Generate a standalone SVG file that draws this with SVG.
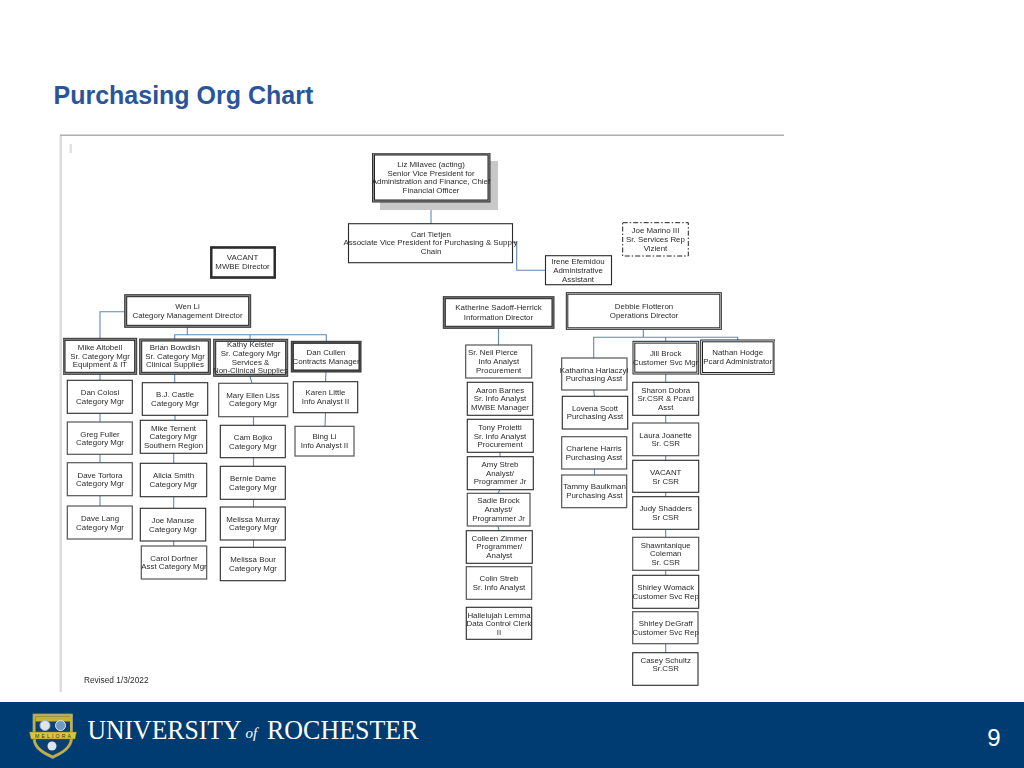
<svg xmlns="http://www.w3.org/2000/svg" width="1024" height="768" viewBox="0 0 1024 768">
<style>
.b{fill:#fff;stroke:#2a2a2a;stroke-width:1.1}
.g{fill:#fff;stroke:#555;stroke-width:1.2}
.o{fill:#8c8c8c;stroke:#333;stroke-width:1}
.w{fill:#fff;stroke:#222;stroke-width:1}
.i{fill:#fff;stroke:#222;stroke-width:1}
.d{fill:#fff;stroke:#222;stroke-width:1;stroke-dasharray:5 2 1.5 2}
text.t{font-family:"Liberation Sans",Arial,sans-serif;font-size:7.9px;fill:#2b2b2b;text-anchor:middle}
#connectors path{fill:none;stroke:#5f88b8;stroke-width:1.1}
</style>
<defs><filter id="soft" x="0" y="0" width="100%" height="100%"><feGaussianBlur stdDeviation="0.22"/></filter></defs>
<rect width="1024" height="768" fill="#fff"/>
<text x="53.500" y="103.500" style="font-family:'Liberation Sans',Arial,sans-serif;font-size:25px;font-weight:bold;fill:#2a5599">Purchasing Org Chart</text>
<g id="frame">
<rect x="59.500" y="135" width="2.500" height="557" fill="#dcdcdc"/>
<rect x="60" y="134.500" width="724" height="1.400" fill="#a8a8a8"/>
<rect x="69.500" y="144" width="2.500" height="9" fill="#e2e2e2"/>
</g>
<g filter="url(#soft)">
<g id="connectors">
<path d="M431 202V224M512.700 242.300H516.700V270.300H545.300"/>
<path d="M124.700 311.700H100V338.300M187.300 327V334.700M174.700 339V334.700H326.300V341.300M250 334.700V339.300"/>
<path d="M100 374V380.300M100 413V422M100 454V462.700M100 495.700V506"/>
<path d="M174.700 374V382.700M175 415V420.300M173.700 453V463.300M173.700 496.700V508.300M173.700 541V546"/>
<path d="M250 376L252 383.300M253.500 416.700V425.300M253.500 457.700V466.300M253.500 499.300V507M253.500 540V547.300"/>
<path d="M326 372L325.500 381.700M325.500 412.700L325 426.300"/>
<path d="M498.500 328.300V345M500 452.300V456.700M500 489.700L498 493.300M498 526L499 530.700"/>
<path d="M643.300 329.300V337.300M593.700 358V337.300H737.700V340M665.700 337.300V341.300M593.700 390L594.500 396.300M594.500 469V475"/>
<path d="M665.700 374V382.300M665.700 415.300V423M665.700 455.700V460.300M665.700 492.300V496.700M665.700 529.300V537.300M665.700 570.300V575.300M665.700 643.700V652.700"/>
</g>
<g id="liz"><rect x="380" y="161" width="118" height="49" fill="#c8c8c8"/><rect class="o" x="372.500" y="153" width="117.500" height="49"/><rect class="i" x="374.500" y="155" width="113.500" height="45"/><text class="t"><tspan x="431" y="167">Liz Milavec (acting)</tspan><tspan x="431" y="175.700">Senior Vice President for</tspan><tspan x="431" y="184.300">Administration and Finance, Chief</tspan><tspan x="431" y="193">Financial Officer</tspan></text></g>
<g id="carl"><rect class="b" x="348.500" y="223.700" width="164" height="39"/><text class="t"><tspan x="431" y="236.700">Cari Tietjen</tspan><tspan x="430.500" y="245.300">Associate Vice President for Purchasing &amp; Supply</tspan><tspan x="431" y="254">Chain</tspan></text></g>
<g id="irene"><rect class="b" x="545.500" y="255.700" width="66" height="29"/><text class="t"><tspan x="578" y="263.700">Irene Efemidou</tspan><tspan x="578" y="273">Administrative</tspan><tspan x="578" y="282">Assistant</tspan></text></g>
<g id="joe-marino"><rect class="d" x="622.700" y="222.700" width="65.600" height="33.300"/><text class="t"><tspan x="655.500" y="233.300">Joe Marino III</tspan><tspan x="655.500" y="242">Sr. Services Rep</tspan><tspan x="655.500" y="250.700">Vizient</tspan></text></g>
<g id="vacant-mwbe"><rect class="o" style="fill:#333" x="210.500" y="246.700" width="65" height="31.600"/><rect class="i" x="212" y="248.200" width="62" height="28.600"/><text class="t"><tspan x="242.500" y="260">VACANT</tspan><tspan x="242.500" y="269.300">MWBE Director</tspan></text></g>
<g id="wen"><rect class="o" x="124.700" y="294.700" width="126" height="32.600"/><rect class="i" x="126.700" y="296.700" width="122" height="28.600"/><text class="t"><tspan x="187.500" y="309.300">Wen Li</tspan><tspan x="187.500" y="318">Category Management Director</tspan></text></g>
<g id="altobell"><rect class="o" x="63" y="338.300" width="73.700" height="36"/><rect class="i" x="65" y="340.300" width="69.700" height="32"/><text class="t"><tspan x="100" y="350">Mike Altobell</tspan><tspan x="100" y="358.700">Sr. Category Mgr</tspan><tspan x="100" y="367.300">Equipment &amp; IT</tspan></text></g>
<g id="bowdish"><rect class="o" x="139.700" y="339" width="70.600" height="35.300"/><rect class="i" x="141.700" y="341" width="66.600" height="31.300"/><text class="t"><tspan x="175" y="350">Brian Bowdish</tspan><tspan x="175" y="358.700">Sr. Category Mgr</tspan><tspan x="175" y="367.300">Clinical Supplies</tspan></text></g>
<g id="keister"><rect class="o" x="213.700" y="339.300" width="74" height="37"/><rect class="i" x="215.700" y="341.300" width="70" height="33"/><text class="t"><tspan x="250.500" y="347.300">Kathy Keister</tspan><tspan x="250.500" y="356">Sr. Category Mgr</tspan><tspan x="250.500" y="364.700">Services &amp;</tspan><tspan x="250.500" y="373.300">Non-Clinical Supplies</tspan></text></g>
<g id="cullen"><rect class="o" style="fill:#555" x="291.300" y="341.300" width="69.700" height="30.700"/><rect class="i" x="293.300" y="343.300" width="65.700" height="26.700"/><text class="t"><tspan x="326" y="355.300">Dan Cullen</tspan><tspan x="326" y="364">Contracts Manager</tspan></text></g>
<g id="colosi"><rect class="b" x="67.300" y="380.300" width="65" height="33"/><text class="t"><tspan x="100" y="395.300">Dan Colosi</tspan><tspan x="100" y="403.700">Category Mgr</tspan></text></g>
<g id="fuller"><rect class="g" x="67.300" y="422" width="65" height="32.300"/><text class="t"><tspan x="100" y="436.700">Greg Fuller</tspan><tspan x="100" y="444.700">Category Mgr</tspan></text></g>
<g id="tortora"><rect class="g" x="67.300" y="462.700" width="65" height="33"/><text class="t"><tspan x="100" y="477.700">Dave Tortora</tspan><tspan x="100" y="486.300">Category Mgr</tspan></text></g>
<g id="lang"><rect class="g" x="67.300" y="506" width="65" height="33"/><text class="t"><tspan x="100" y="521">Dave Lang</tspan><tspan x="100" y="529.700">Category Mgr</tspan></text></g>
<g id="castle"><rect class="b" x="142.300" y="382.700" width="65.400" height="32.600"/><text class="t"><tspan x="175" y="397">B.J. Castle</tspan><tspan x="175" y="405.700">Category Mgr</tspan></text></g>
<g id="ternent"><rect class="b" x="140.300" y="420.300" width="66.400" height="33"/><text class="t"><tspan x="173.500" y="430.700">Mike Ternent</tspan><tspan x="173.500" y="439.300">Category Mgr</tspan><tspan x="173.500" y="448">Southern Region</tspan></text></g>
<g id="smith"><rect class="b" x="140.300" y="463.300" width="66.400" height="33.400"/><text class="t"><tspan x="173.500" y="478.300">Alicia Smith</tspan><tspan x="173.500" y="487">Category Mgr</tspan></text></g>
<g id="manuse"><rect class="b" x="140.300" y="508.300" width="65.400" height="32.700"/><text class="t"><tspan x="173" y="522.700">Joe Manuse</tspan><tspan x="173" y="532">Category Mgr</tspan></text></g>
<g id="dorfner"><rect class="g" x="141.300" y="546" width="65.400" height="33"/><text class="t"><tspan x="174" y="560.700">Carol Dorfner</tspan><tspan x="174" y="569.300">Asst Category Mgr</tspan></text></g>
<g id="liss"><rect class="g" x="218.700" y="383.300" width="69" height="33.400"/><text class="t"><tspan x="253" y="397.700">Mary Ellen Liss</tspan><tspan x="253" y="406.300">Category Mgr</tspan></text></g>
<g id="bojko"><rect class="b" x="220.300" y="425.300" width="65" height="32.400"/><text class="t"><tspan x="253" y="440.300">Cam Bojko</tspan><tspan x="253" y="449">Category Mgr</tspan></text></g>
<g id="dame"><rect class="b" x="220.300" y="466.300" width="65" height="33"/><text class="t"><tspan x="253" y="481">Bernie Dame</tspan><tspan x="253" y="489.700">Category Mgr</tspan></text></g>
<g id="murray"><rect class="b" x="220.300" y="507" width="65" height="33"/><text class="t"><tspan x="253" y="521.700">Melissa Murray</tspan><tspan x="253" y="530.300">Category Mgr</tspan></text></g>
<g id="bour"><rect class="b" x="220.300" y="547.300" width="65" height="33.400"/><text class="t"><tspan x="253" y="562.300">Melissa Bour</tspan><tspan x="253" y="571">Category Mgr</tspan></text></g>
<g id="little"><rect class="b" x="293.300" y="381.700" width="64.400" height="31"/><text class="t"><tspan x="325.500" y="395.300">Karen Little</tspan><tspan x="325.500" y="404">Info Analyst II</tspan></text></g>
<g id="bing"><rect class="g" x="295" y="426.300" width="59" height="29.700"/><text class="t"><tspan x="324.500" y="439.300">Bing Li</tspan><tspan x="324.500" y="448">Info Analyst II</tspan></text></g>
<g id="sadoff"><rect class="o" style="fill:#777" x="443.300" y="296.700" width="110.700" height="31.600"/><rect class="i" x="445.300" y="298.700" width="106.700" height="27.600"/><text class="t"><tspan x="498.500" y="310.300">Katherine Sadoff-Herrick</tspan><tspan x="498.500" y="319.700">Information Director</tspan></text></g>
<g id="pierce"><rect class="g" x="465.700" y="345" width="66" height="33"/><text class="t"><tspan x="493" y="355.300">Sr. Neil Pierce</tspan><tspan x="498.700" y="364">Info Analyst</tspan><tspan x="498.700" y="372.700">Procurement</tspan></text></g>
<g id="barnes"><rect class="b" x="467.300" y="382.300" width="65.400" height="33"/><text class="t"><tspan x="500" y="392.700">Aaron Barnes</tspan><tspan x="500" y="401.300">Sr. Info Analyst</tspan><tspan x="500" y="410">MWBE Manager</tspan></text></g>
<g id="proietti"><rect class="b" x="467.300" y="419.300" width="66" height="33"/><text class="t"><tspan x="500" y="429.700">Tony Proietti</tspan><tspan x="500" y="438.700">Sr. Info Analyst</tspan><tspan x="500" y="447.300">Procurement</tspan></text></g>
<g id="amy-streb"><rect class="b" x="467.300" y="456.700" width="66" height="33"/><text class="t"><tspan x="500" y="467">Amy Streb</tspan><tspan x="500" y="475.700">Analyst/</tspan><tspan x="500" y="484.300">Programmer Jr</tspan></text></g>
<g id="brock-sadie"><rect class="g" x="467.300" y="493.300" width="62.700" height="32.700"/><text class="t"><tspan x="498.500" y="503.300">Sadie Brock</tspan><tspan x="498.500" y="512">Analyst/</tspan><tspan x="498.500" y="520.700">Programmer Jr</tspan></text></g>
<g id="zimmer"><rect class="b" x="466.300" y="530.700" width="66" height="32.600"/><text class="t"><tspan x="499.300" y="540.700">Colleen Zimmer</tspan><tspan x="499.300" y="549.300">Programmer/</tspan><tspan x="499.300" y="558">Analyst</tspan></text></g>
<g id="colin-streb"><rect class="g" x="466.300" y="566.700" width="65.400" height="32.600"/><text class="t"><tspan x="499" y="581.300">Colin Streb</tspan><tspan x="499" y="590">Sr. Info Analyst</tspan></text></g>
<g id="lemma"><rect class="b" x="466.300" y="607.300" width="65.400" height="32"/><text class="t"><tspan x="499" y="617.700">Hallelujah Lemma</tspan><tspan x="499" y="626.300">Data Control Clerk</tspan><tspan x="499" y="635">II</tspan></text></g>
<g id="flotteron"><rect class="w" x="566.300" y="292.700" width="155" height="36.600"/><rect class="i" x="567.800" y="294.200" width="152" height="33.600"/><text class="t"><tspan x="644" y="308.700">Debbie Flotteron</tspan><tspan x="644" y="318">Operations Director</tspan></text></g>
<g id="harlaczyl"><rect class="g" x="561.700" y="358" width="65.300" height="32"/><text class="t"><tspan x="594" y="372.700">Katharina Harlaczyl</tspan><tspan x="594" y="381.300">Purchasing Asst</tspan></text></g>
<g id="scott"><rect class="b" x="562.300" y="396.300" width="65.400" height="32.700"/><text class="t"><tspan x="595" y="410.700">Lovena Scott</tspan><tspan x="595" y="419.300">Purchasing Asst</tspan></text></g>
<g id="harris"><rect class="g" x="561.700" y="436.700" width="65" height="32.300"/><text class="t"><tspan x="594" y="451.300">Charlene Harris</tspan><tspan x="594" y="460">Purchasing Asst</tspan></text></g>
<g id="baulkman"><rect class="g" x="561.700" y="475" width="65" height="32.700"/><text class="t"><tspan x="594.500" y="489.300">Tammy Baulkman</tspan><tspan x="594.500" y="498">Purchasing Asst</tspan></text></g>
<g id="jill-brock"><rect class="w" x="633" y="341.300" width="65.700" height="32.700"/><rect class="i" x="634.800" y="343.100" width="62.100" height="29.100"/><text class="t"><tspan x="665.700" y="356">Jill Brock</tspan><tspan x="665.700" y="364.700">Customer Svc Mgr</tspan></text></g>
<g id="hodge"><rect class="w" x="700.700" y="340" width="74.300" height="34.300"/><rect class="i" x="702.500" y="341.800" width="70.700" height="30.700"/><text class="t"><tspan x="737.700" y="355.300">Nathan Hodge</tspan><tspan x="737.700" y="364">Pcard Administrator</tspan></text></g>
<g id="dobra"><rect class="b" x="632.700" y="382.300" width="66" height="33"/><text class="t"><tspan x="665.700" y="392.700">Sharon Dobra</tspan><tspan x="665.700" y="401.300">Sr.CSR &amp; Pcard</tspan><tspan x="665.700" y="410">Asst</tspan></text></g>
<g id="joanette"><rect class="g" x="632.700" y="423" width="66" height="32.700"/><text class="t"><tspan x="665.700" y="437.700">Laura Joanette</tspan><tspan x="665.700" y="446.300">Sr. CSR</tspan></text></g>
<g id="vacant-csr"><rect class="b" x="632.700" y="460.300" width="66" height="32"/><text class="t"><tspan x="665.700" y="475">VACANT</tspan><tspan x="665.700" y="483.700">Sr CSR</tspan></text></g>
<g id="shadders"><rect class="b" x="632.700" y="496.700" width="66" height="32.600"/><text class="t"><tspan x="665.700" y="511.300">Judy Shadders</tspan><tspan x="665.700" y="520">Sr CSR</tspan></text></g>
<g id="coleman"><rect class="g" x="632.700" y="537.300" width="66" height="33"/><text class="t"><tspan x="665.700" y="547.700">Shawntanique</tspan><tspan x="665.700" y="556.300">Coleman</tspan><tspan x="665.700" y="565">Sr. CSR</tspan></text></g>
<g id="womack"><rect class="b" x="632.700" y="575.300" width="66" height="33"/><text class="t"><tspan x="665.700" y="590">Shirley Womack</tspan><tspan x="665.700" y="598.700">Customer Svc Rep</tspan></text></g>
<g id="degraff"><rect class="g" x="632.700" y="611.700" width="65.300" height="32"/><text class="t"><tspan x="665.700" y="626.300">Shirley DeGraff</tspan><tspan x="665.700" y="635">Customer Svc Rep</tspan></text></g>
<g id="schultz"><rect class="b" x="632.700" y="652.700" width="65.300" height="32.600"/><text class="t"><tspan x="665.700" y="663">Casey Schultz</tspan><tspan x="665.700" y="671.300">Sr.CSR</tspan></text></g>
<text class="t" style="text-anchor:start;font-size:8.3px" x="84" y="682.500">Revised 1/3/2022</text>
</g>
<g id="footer">
<rect y="702" width="1024" height="66" fill="#003b71"/>
<path d="M33 714H72.500V738C72.500 749 62 754 52.700 758.500C43 754 33 749 33 738Z" fill="#c9b037" stroke="#8fa0a8" stroke-width="0.800"/>
<path d="M35.500 716.500H70V738C70 747 61 752 52.700 755.500C44.500 752 35.500 747 35.500 738Z" fill="#0e3f73"/>
<rect x="35.500" y="716.500" width="34.500" height="5" fill="#c9b037"/>
<circle cx="45" cy="725.500" r="5" fill="#dfe6ea" stroke="#9fb4c4" stroke-width="1"/>
<circle cx="60.500" cy="725.500" r="5" fill="#6d9cc0" stroke="#dfe6ea" stroke-width="1"/>
<circle cx="52" cy="746" r="4.500" fill="#dfe6ea"/>
<path d="M29.500 732H76.500L75 739H31Z" fill="#d9c443" stroke="#8a7a20" stroke-width="0.500"/>
<text x="53" y="737.700" style="font-family:'Liberation Sans',sans-serif;font-size:5.200px;fill:#3a3a10;text-anchor:middle" textLength="36">MELIORA</text>
<text x="87.500" y="739" style="font-family:'Liberation Serif','Times New Roman',serif;font-size:26.500px;fill:#fff" textLength="154" lengthAdjust="spacingAndGlyphs">UNIVERSITY</text>
<text x="245.500" y="738" style="font-family:'Liberation Serif','Times New Roman',serif;font-size:15px;font-style:italic;fill:#fff">of</text>
<text x="267" y="739" style="font-family:'Liberation Serif','Times New Roman',serif;font-size:26.500px;fill:#fff" textLength="151.500" lengthAdjust="spacingAndGlyphs">ROCHESTER</text>
<text x="994" y="746" style="font-family:'Liberation Sans',Arial,sans-serif;font-size:24px;fill:#fff;text-anchor:middle">9</text>
</g>
</svg>
